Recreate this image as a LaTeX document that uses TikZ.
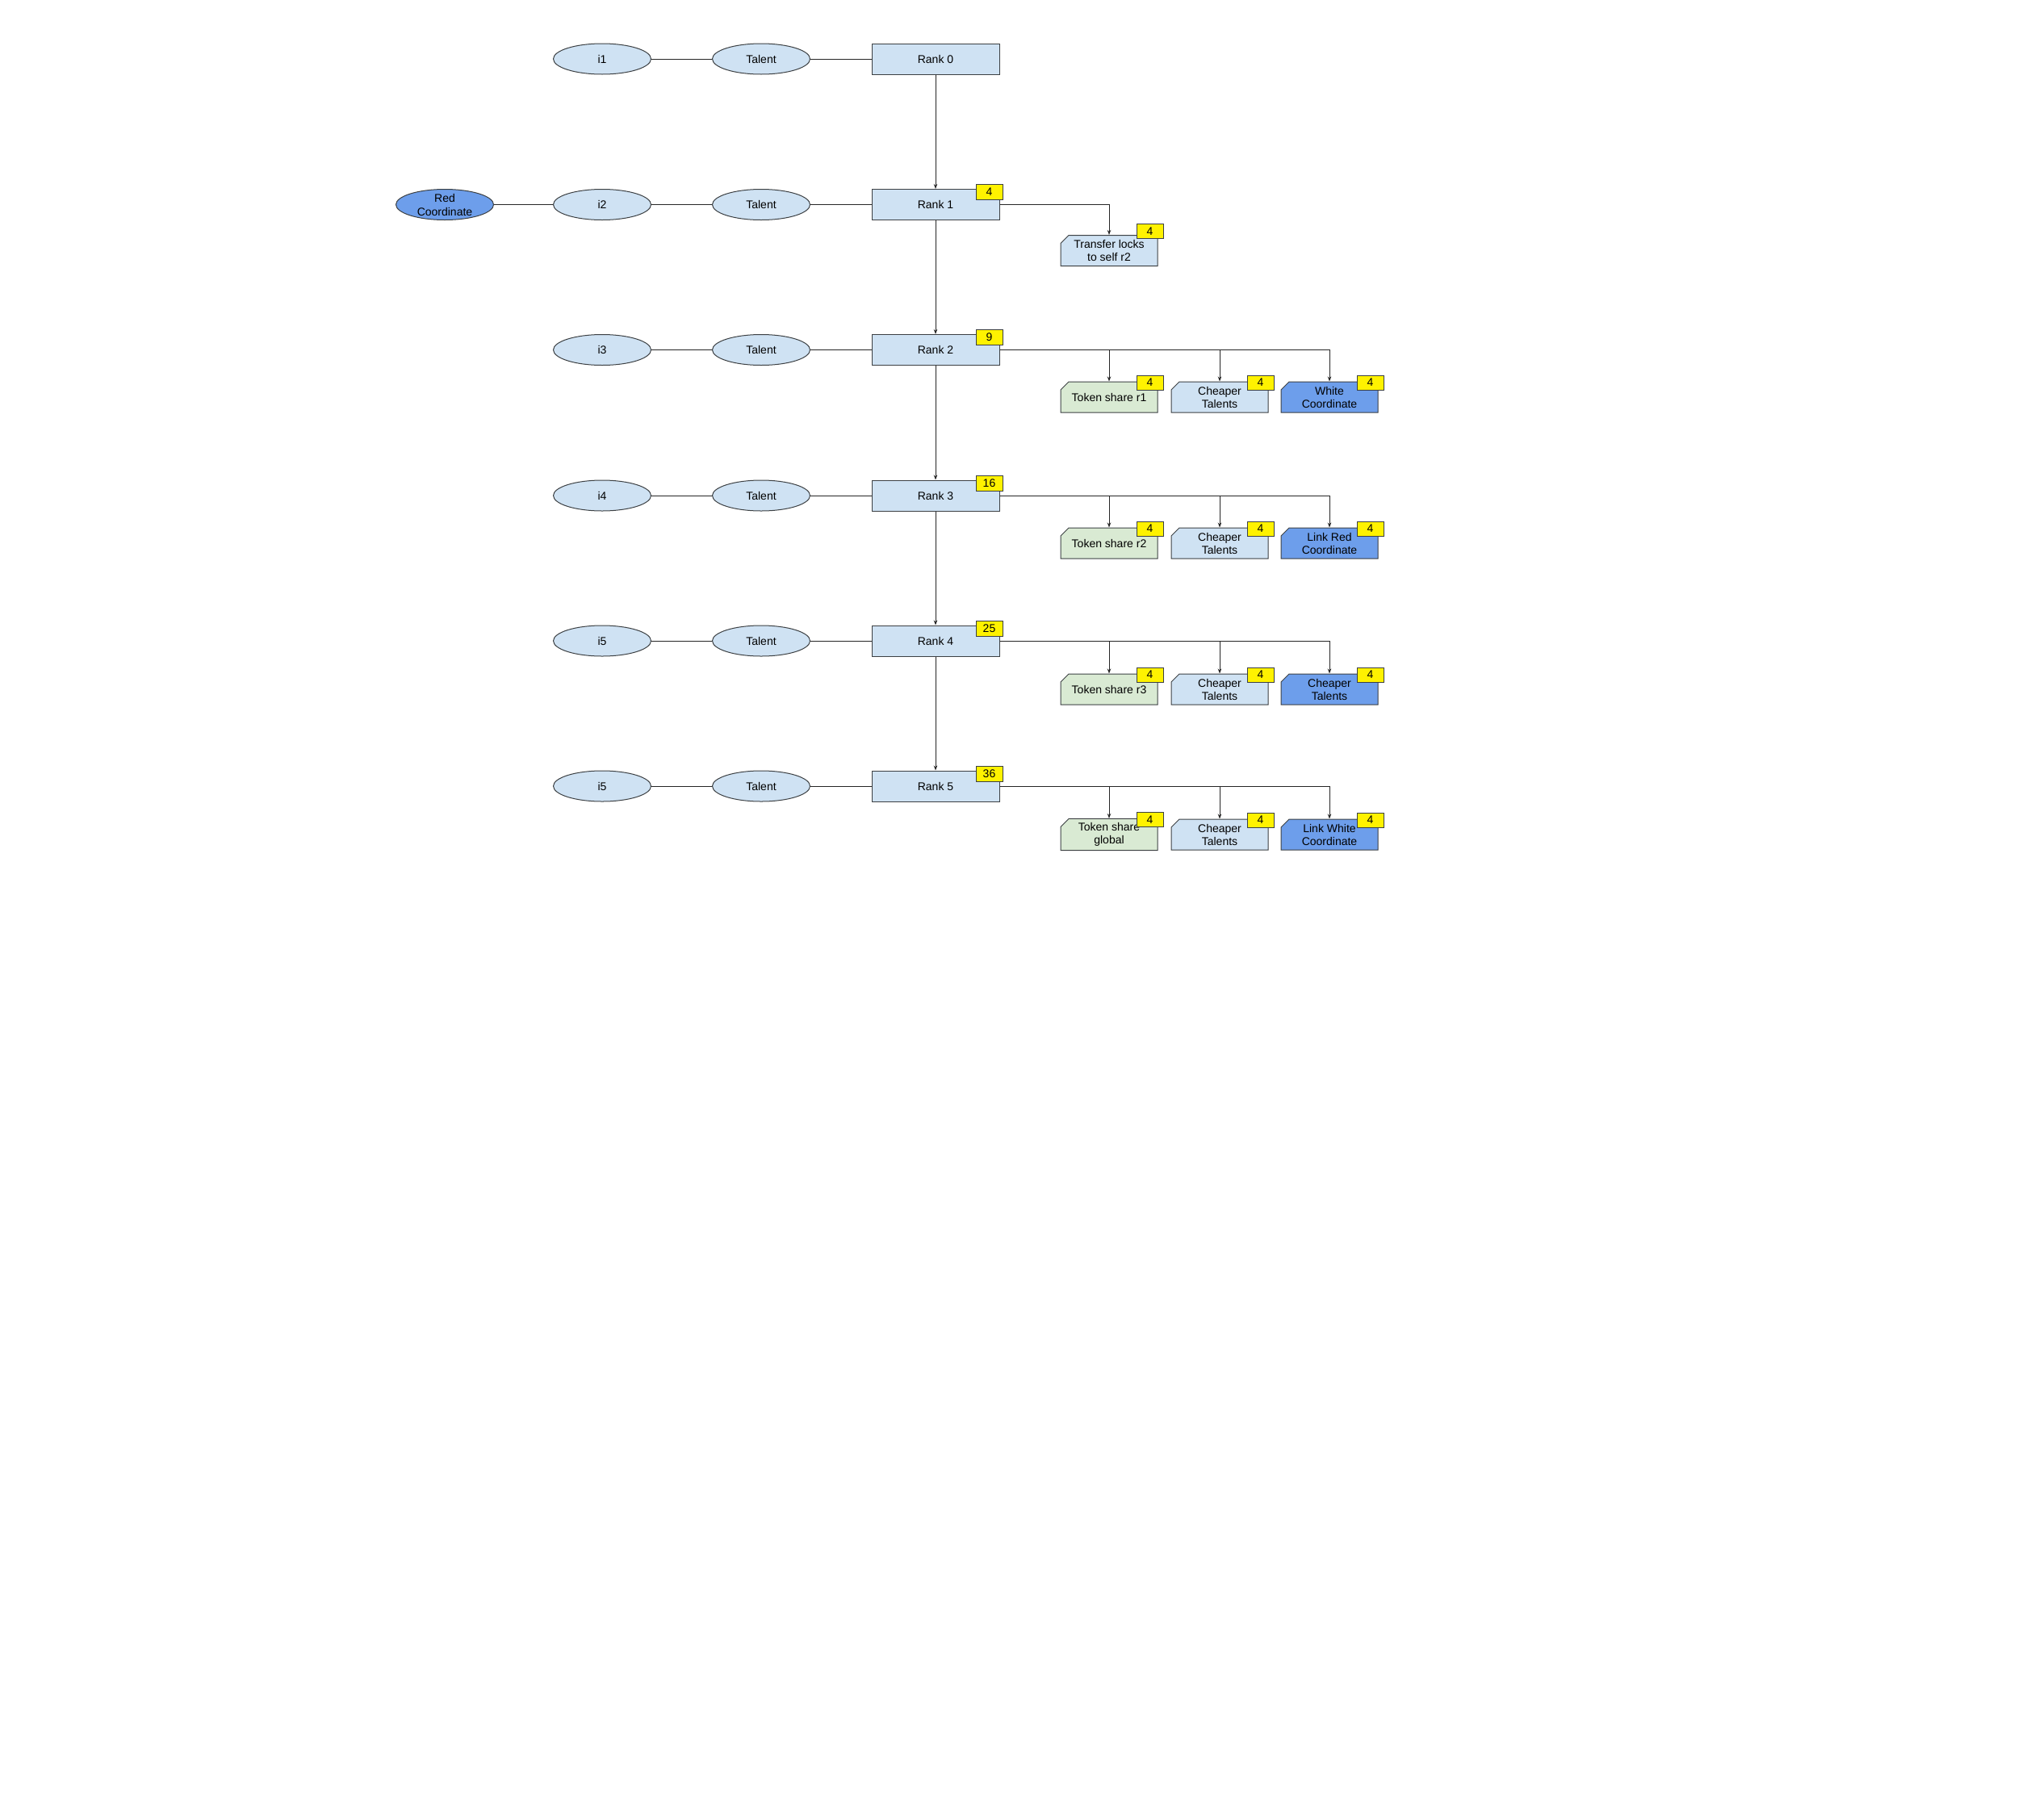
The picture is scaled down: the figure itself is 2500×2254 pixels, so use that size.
\documentclass[tikz,border=0pt]{standalone}
\usepackage{fontspec}
\setmainfont{Liberation Sans}
\usetikzlibrary{shapes.geometric,shapes.misc,arrows.meta,positioning}
\definecolor{paleblue}{HTML}{CFE2F3}
\definecolor{palegreen}{HTML}{D9EAD3}
\definecolor{cornflower}{HTML}{6D9EEB}
\definecolor{edgegray}{HTML}{3C4043}

\begin{document}
\begin{tikzpicture}[
    x=1pt, y=-1pt,
    base/.style={draw=edgegray, line width=1pt, inner sep=0pt, align=center, font=\fontsize{14}{16}\selectfont},
    rank/.style={base, fill=paleblue, minimum width=158pt, minimum height=38pt},
    oval/.style={base, ellipse, fill=paleblue, minimum width=121pt, minimum height=38pt},
    task/.style={base, chamfered rectangle, chamfered rectangle corners=north west, chamfered rectangle xsep=5pt, chamfered rectangle ysep=5pt, minimum width=120pt, minimum height=38pt},
    badge/.style={base, fill=yellow, minimum width=33pt, minimum height=19pt, anchor=north east},
    link/.style={line width=1pt, draw=black!85},
    arr/.style={link, -{Stealth[length=6pt,width=4.5pt]}}
]
\useasboundingbox (0,0) rectangle (2500,2254);

% ranks (spine)
\node[rank] (R0) at (1159,73) {Rank 0};
\node[rank] (R1) at (1159,253.5) {Rank 1};
\node[rank] (R2) at (1159,433.5) {Rank 2};
\node[rank] (R3) at (1159,614) {Rank 3};
\node[rank] (R4) at (1159,794) {Rank 4};
\node[rank] (R5) at (1159,974) {Rank 5};

% inputs and talents
\node[oval] (I1) at (746,73) {i1};
\node[oval] (I2) at (746,253.5) {i2};
\node[oval] (I3) at (746,433.5) {i3};
\node[oval] (I4) at (746,614) {i4};
\node[oval] (I5) at (746,794) {i5};
\node[oval] (I6) at (746,974) {i5};
\node[oval] (T0) at (943,73) {Talent};
\node[oval] (T1) at (943,253.5) {Talent};
\node[oval] (T2) at (943,433.5) {Talent};
\node[oval] (T3) at (943,614) {Talent};
\node[oval] (T4) at (943,794) {Talent};
\node[oval] (T5) at (943,974) {Talent};
\node[oval, fill=cornflower, inner ysep=-5pt, font=\fontsize{14}{17}\selectfont] (RC) at (551,253.5) {Red\\Coordinate};

% rank costs
\node[badge, xshift=4pt, yshift=6pt] (B1) at (R1.north east) {4};
\node[badge, xshift=4pt, yshift=6pt] (B2) at (R2.north east) {9};
\node[badge, xshift=4pt, yshift=6pt] (B3) at (R3.north east) {16};
\node[badge, xshift=4pt, yshift=6pt] (B4) at (R4.north east) {25};
\node[badge, xshift=4pt, yshift=6pt] (B5) at (R5.north east) {36};

% unlocks per rank
\node[task, fill=paleblue] (C11) at (1374,310.5) {Transfer locks\\to self r2};
\node[task, fill=palegreen] (C21) at (1374,492) {Token share r1};
\node[task, fill=paleblue] (C22) at (1511,492) {Cheaper\\Talents};
\node[task, fill=cornflower] (C23) at (1647,492) {White\\Coordinate};
\node[task, fill=palegreen] (C31) at (1374,673) {Token share r2};
\node[task, fill=paleblue] (C32) at (1511,673) {Cheaper\\Talents};
\node[task, fill=cornflower] (C33) at (1647,673) {Link Red\\Coordinate};
\node[task, fill=palegreen] (C41) at (1374,854) {Token share r3};
\node[task, fill=paleblue] (C42) at (1511,854) {Cheaper\\Talents};
\node[task, fill=cornflower] (C43) at (1647,854) {Cheaper\\Talents};
\node[task, fill=palegreen] (C51) at (1374,1034) {Token share\\global};
\node[task, fill=paleblue] (C52) at (1511,1034) {Cheaper\\Talents};
\node[task, fill=cornflower] (C53) at (1647,1034) {Link White\\Coordinate};

% unlock costs
\node[badge, minimum height=18pt, xshift=7pt, yshift=14pt] (B11) at (C11.north east) {4};
\node[badge, minimum height=18pt, xshift=7pt, yshift=8pt] (B21) at (C21.north east) {4};
\node[badge, minimum height=18pt, xshift=7pt, yshift=8pt] (B22) at (C22.north east) {4};
\node[badge, minimum height=18pt, xshift=7pt, yshift=8pt] (B23) at (C23.north east) {4};
\node[badge, minimum height=18pt, xshift=7pt, yshift=8pt] (B31) at (C31.north east) {4};
\node[badge, minimum height=18pt, xshift=7pt, yshift=8pt] (B32) at (C32.north east) {4};
\node[badge, minimum height=18pt, xshift=7pt, yshift=8pt] (B33) at (C33.north east) {4};
\node[badge, minimum height=18pt, xshift=7pt, yshift=8pt] (B41) at (C41.north east) {4};
\node[badge, minimum height=18pt, xshift=7pt, yshift=8pt] (B42) at (C42.north east) {4};
\node[badge, minimum height=18pt, xshift=7pt, yshift=8pt] (B43) at (C43.north east) {4};
\node[badge, minimum height=18pt, xshift=7pt, yshift=8pt] (B51) at (C51.north east) {4};
\node[badge, minimum height=18pt, xshift=7pt, yshift=8pt] (B52) at (C52.north east) {4};
\node[badge, minimum height=18pt, xshift=7pt, yshift=8pt] (B53) at (C53.north east) {4};

% left chains
\draw[link] (I1) -- (T0); \draw[link] (T0) -- (R0);
\draw[link] (RC) -- (I2);
\draw[link] (I2) -- (T1); \draw[link] (T1) -- (R1);
\draw[link] (I3) -- (T2); \draw[link] (T2) -- (R2);
\draw[link] (I4) -- (T3); \draw[link] (T3) -- (R3);
\draw[link] (I5) -- (T4); \draw[link] (T4) -- (R4);
\draw[link] (I6) -- (T5); \draw[link] (T5) -- (R5);

% spine
\draw[arr] (R0) -- (R1);
\draw[arr] (R1) -- (R2);
\draw[arr] (R2) -- (R3);
\draw[arr] (R3) -- (R4);
\draw[arr] (R4) -- (R5);

% rank to unlocks
\draw[arr] (R1.east) -| (C11.north);
\draw[arr] (R2.east) -| (C21.north);
\draw[arr] (R2.east) -| (C22.north);
\draw[arr] (R2.east) -| (C23.north);
\draw[arr] (R3.east) -| (C31.north);
\draw[arr] (R3.east) -| (C32.north);
\draw[arr] (R3.east) -| (C33.north);
\draw[arr] (R4.east) -| (C41.north);
\draw[arr] (R4.east) -| (C42.north);
\draw[arr] (R4.east) -| (C43.north);
\draw[arr] (R5.east) -| (C51.north);
\draw[arr] (R5.east) -| (C52.north);
\draw[arr] (R5.east) -| (C53.north);

\end{tikzpicture}
\end{document}
